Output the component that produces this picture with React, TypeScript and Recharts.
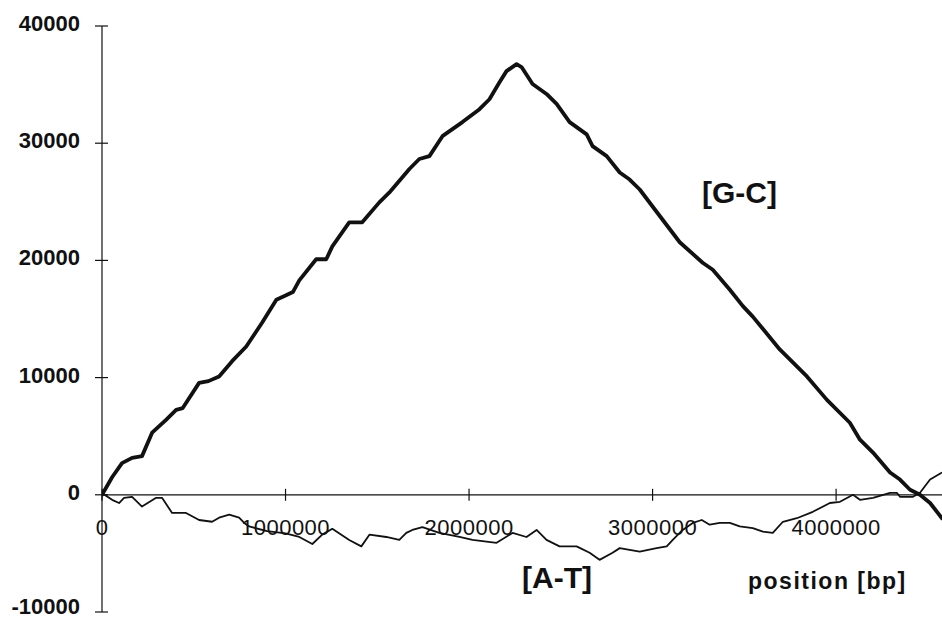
import React from 'react';
import { LineChart, Line, XAxis, YAxis, ReferenceLine } from 'recharts';

// cumulative skew along the genome
const gcPos = [
  0, 55000, 109000, 164000, 218000, 273000, 349000, 404000, 440000, 529000, 580000, 638000,
  709000, 786000, 873000, 950000, 1000000, 1040000, 1075000, 1167000, 1222000, 1255000,
  1347000, 1418000, 1511000, 1566000, 1675000, 1729000, 1784000, 1855000, 1964000, 2057000,
  2111000, 2166000, 2204000, 2259000, 2286000, 2346000, 2422000, 2477000, 2548000, 2641000,
  2673000, 2750000, 2821000, 2875000, 2930000, 3000000, 3148000, 3273000, 3328000, 3421000,
  3492000, 3546000, 3693000, 3841000, 3950000, 4075000, 4130000, 4201000, 4294000, 4348000,
  4403000, 4457000, 4512000, 4577000,
];
const gcVal = [
  0, 1500, 2700, 3150, 3300, 5300, 6400, 7250, 7400, 9550, 9700, 10100,
  11400, 12650, 14700, 16650, 17000, 17300, 18300, 20100, 20100, 21200,
  23250, 23250, 24950, 25800, 27800, 28650, 28900, 30600, 31800, 32900,
  33750, 35200, 36150, 36750, 36500, 35050, 34200, 33350, 31800, 30750,
  29750, 28900, 27500, 26900, 26050, 24600, 21550, 19800, 19200, 17500,
  16100, 15200, 12400, 10100, 8100, 6150, 4700, 3600, 1900, 1300,
  430, 0, -700, -2000,
];

const atPos = [
  0, 55000, 93000, 120000, 164000, 218000, 295000, 327000, 382000, 458000, 529000, 600000,
  638000, 693000, 747000, 775000, 802000, 900000, 1000000, 1075000, 1146000, 1200000,
  1255000, 1347000, 1413000, 1457000, 1549000, 1620000, 1658000, 1691000, 1746000, 1838000,
  1948000, 2019000, 2150000, 2237000, 2313000, 2368000, 2422000, 2493000, 2586000, 2657000,
  2711000, 2782000, 2821000, 2875000, 2930000, 3022000, 3077000, 3110000, 3164000, 3219000,
  3268000, 3311000, 3366000, 3421000, 3475000, 3546000, 3601000, 3655000, 3710000, 3786000,
  3873000, 3966000, 4021000, 4092000, 4130000, 4201000, 4294000, 4331000, 4348000, 4419000,
  4457000, 4512000, 4577000,
];
const atVal = [
  150, -430, -700, -260, -170, -1000, -260, -260, -1550, -1550, -2150, -2300,
  -1950, -1700, -1950, -2400, -2700, -3100, -3300, -3600, -4200, -3400,
  -2900, -3850, -4400, -3400, -3600, -3850, -3250, -3000, -2750, -3250,
  -3600, -3850, -4100, -3250, -3600, -3000, -3850, -4400, -4400, -4950,
  -5550, -4950, -4550, -4700, -4850, -4550, -4400, -3850, -3000, -2400,
  -2150, -2550, -2400, -2400, -2700, -2850, -3150, -3250, -2300, -2000,
  -1450, -700, -600, 0, -430, -260, 170, 170, -170, -170,
  170, 1300, 1900,
];

const xTicks = [0, 1000000, 2000000, 3000000, 4000000];
const yTicks = [-10000, 0, 10000, 20000, 30000, 40000];

const gcData = gcPos.map((pos, i) => ({ pos, v: gcVal[i] }));
const atData = atPos.map((pos, i) => ({ pos, v: atVal[i] }));

const W = 942;
const H = 619;
const TOP = 26;
const X_AXIS_H = 7;
const Y_MIN = -10000;
const Y_MAX = 40000;
const X_MAX = 4577000;
const FONT = '"Liberation Sans", Arial, Helvetica, sans-serif';
const INK = '#111';

const plotH = H - TOP - X_AXIS_H;
const zeroY = TOP + (plotH * Y_MAX) / (Y_MAX - Y_MIN);

const XTick = (props: any) => {
  const { x, payload } = props;
  return (
    <g>
      <line x1={x} x2={x} y1={zeroY - 6} y2={zeroY + 6} stroke={INK} strokeWidth={1.2} />
      <text
        x={x}
        y={zeroY + 40}
        textAnchor="middle"
        fontFamily={FONT}
        fontSize={22}
        letterSpacing={0.5}
        fill={INK}
      >
        {payload.value}
      </text>
    </g>
  );
};

const YTick = (props: any) => {
  const { x, y, payload } = props;
  // keep the lowest label inside the picture
  const baseline = Math.min(y + 5, H - 5);
  return (
    <g>
      <line x1={x - 7} x2={x + 6} y1={y} y2={y} stroke={INK} strokeWidth={1.2} />
      <text
        x={x - 22}
        y={baseline}
        textAnchor="end"
        fontFamily={FONT}
        fontSize={22}
        fontWeight="bold"
        fill={INK}
      >
        {payload.value}
      </text>
    </g>
  );
};

export default function App() {
  return (
    <div style={{ position: 'absolute', left: 0, top: 0, background: '#fff' }}>
      <LineChart width={W} height={H} margin={{ top: TOP, right: 0, bottom: 0, left: 0 }}>
        <XAxis
          dataKey="pos"
          type="number"
          domain={[0, X_MAX]}
          ticks={xTicks}
          allowDataOverflow
          axisLine={false}
          tickLine={false}
          tickSize={0}
          tickMargin={0}
          height={X_AXIS_H}
          tick={<XTick />}
          interval={0}
        />
        <YAxis
          type="number"
          domain={[Y_MIN, Y_MAX]}
          ticks={yTicks}
          width={102}
          axisLine={{ stroke: INK, strokeWidth: 1.2 }}
          tickLine={false}
          tickSize={0}
          tickMargin={0}
          tick={<YTick />}
          interval={0}
        />
        <ReferenceLine y={0} stroke={INK} strokeWidth={1.2} />
        <Line
          data={atData}
          dataKey="v"
          type="linear"
          stroke={INK}
          strokeWidth={1.8}
          dot={false}
          isAnimationActive={false}
          strokeLinejoin="round"
        />
        <Line
          data={gcData}
          dataKey="v"
          type="linear"
          stroke={INK}
          strokeWidth={3.8}
          dot={false}
          isAnimationActive={false}
          strokeLinejoin="round"
          strokeLinecap="round"
        />
        <text x={702} y={203} fontFamily={FONT} fontSize={30} fontWeight="bold" fill={INK}>
          [G-C]
        </text>
        <text x={522} y={588} fontFamily={FONT} fontSize={30} fontWeight="bold" fill={INK}>
          [A-T]
        </text>
        <text
          x={748}
          y={589}
          fontFamily={FONT}
          fontSize={23}
          fontWeight="bold"
          letterSpacing={1.5}
          fill={INK}
        >
          position [bp]
        </text>
      </LineChart>
    </div>
  );
}
